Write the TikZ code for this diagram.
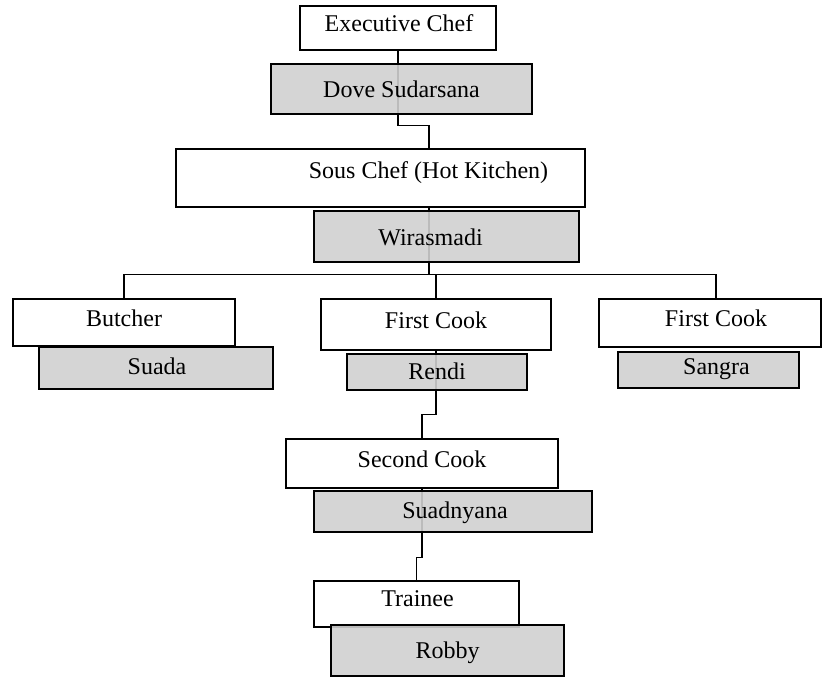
\documentclass[tikz,border=0pt]{standalone}
\usepackage{fontspec}
\setmainfont{Liberation Serif}
\usetikzlibrary{backgrounds}
\definecolor{boxgray}{RGB}{208,208,208}
\tikzset{
  rolebox/.style={draw, line width=1.3pt, fill=white, inner sep=0pt},
  namebox/.style={rolebox, fill=boxgray, fill opacity=0.9},
  link/.style={line width=1.3pt},
}
\begin{document}
\begin{tikzpicture}[x=1pt, y=-1pt, font=\fontsize{24}{28}\selectfont]
  \useasboundingbox (0,0) rectangle (822,677);
  \node [rolebox, minimum width=196, minimum height=44,
    label={[shift={(1,-5)}]center:Executive Chef}] (exec) at (398,28) {};
  \node [namebox, minimum width=261, minimum height=50,
    label={center:Dove Sudarsana}] (dove) at (401.5,89) {};
  \node [rolebox, minimum width=409, minimum height=58,
    label={[shift={(48,-5)}]center:Sous Chef (Hot Kitchen)}] (sous) at (380.5,178) {};
  \node [namebox, minimum width=265, minimum height=51,
    label={[shift={(-16,1)}]center:Wirasmadi}] (wira) at (446.5,236.5) {};

  \node [rolebox, minimum width=222, minimum height=47,
    label={[shift={(0,-4)}]center:Butcher}] (butcher) at (124,322.5) {};
  \node [namebox, minimum width=234, minimum height=42,
    label={[shift={(1,-2)}]center:Suada}] (suada) at (156,368) {};
  \node [rolebox, minimum width=230, minimum height=51,
    label={[shift={(0,-4)}]center:First Cook}] (first1) at (436,324.5) {};
  \node [namebox, minimum width=180, minimum height=36,
    label={[shift={(0,-1)}]center:Rendi}] (rendi) at (437,372) {};
  \node [rolebox, minimum width=222, minimum height=48,
    label={[shift={(6,-5)}]center:First Cook}] (first2) at (710,323) {};
  \node [namebox, minimum width=181, minimum height=36,
    label={[shift={(8,-1)}]center:Sangra}] (sangra) at (708.5,370) {};

  \node [rolebox, minimum width=272, minimum height=49,
    label={[shift={(0,-4)}]center:Second Cook}] (second) at (422,463.5) {};
  \node [namebox, minimum width=278, minimum height=41,
    label={[shift={(2,1)}]center:Suadnyana}] (suadny) at (453,511.5) {};
  \node [rolebox, minimum width=205, minimum height=46,
    label={[shift={(1,-5)}]center:Trainee}] (trainee) at (416.5,604) {};
  \node [namebox, minimum width=233, minimum height=51,
    label={[shift={(0,2)}]center:Robby}] (robby) at (447.5,650.5) {};

  % lines behind the boxes
  \begin{scope}[on background layer]
    \coordinate (bar) at ([yshift=-67pt, xshift=48.5pt]sous.south);
    \draw [link] (exec.south) -- ++(0,75) -| ([xshift=48.5pt]sous.north);
    \draw [link] ([xshift=48.5pt]sous.south) -- (bar);
    \draw [link] (butcher.north) |- (bar) -| ([xshift=6pt]first2.north);
    \draw [link] (bar) -| (first1.north);
    \draw [link] (first1.south) -- ++(0,64) -| (second.north);
    \draw [link] (second.south) -- ++(0,69) -| (trainee.north);
  \end{scope}
\end{tikzpicture}
\end{document}
